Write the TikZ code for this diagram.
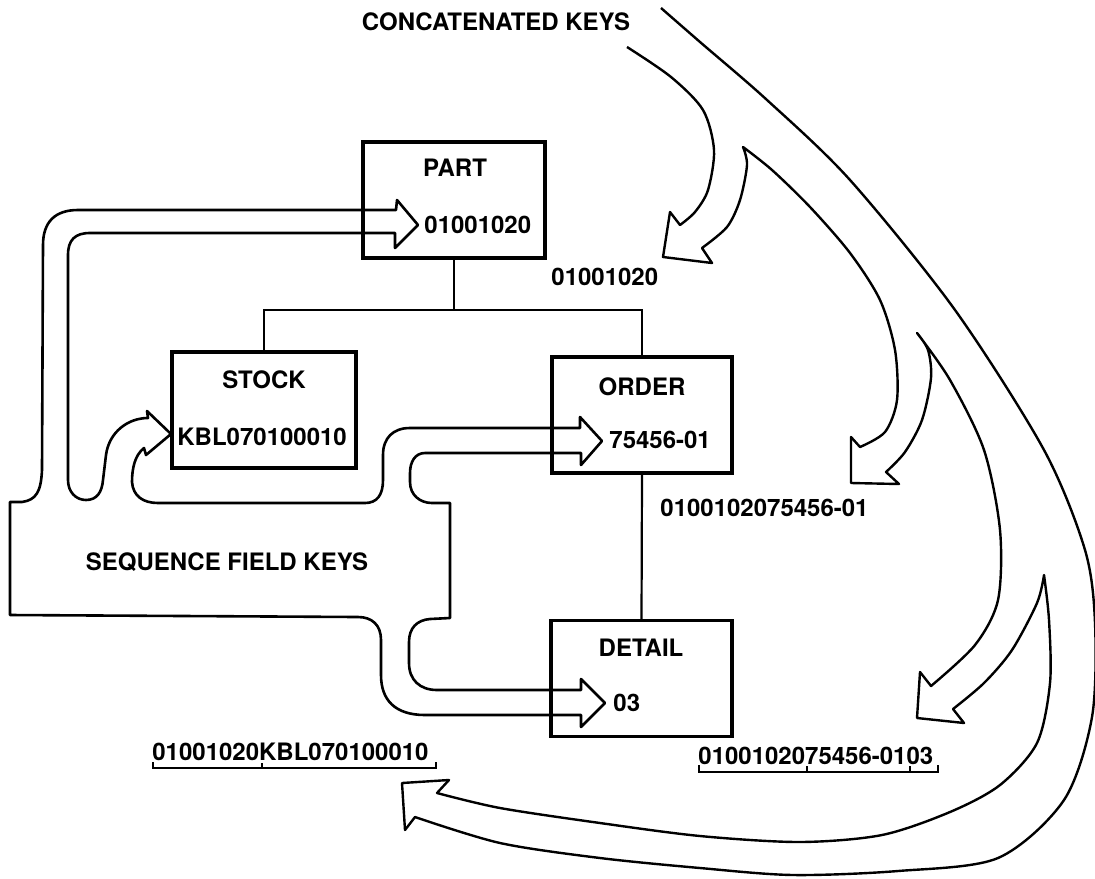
\documentclass[tikz,border=0pt]{standalone}
\usepackage{fontspec}
\setmainfont{TeX Gyre Heros}

\tikzset{
  recbox/.style={draw, line width=1.6pt, minimum height=58pt, inner sep=0pt},
  keytext/.style={anchor=west, inner sep=0pt},
  tree/.style={line width=1.1pt},
  band/.style={line width=1.3pt, line join=round},
}

\begin{document}
\begin{tikzpicture}[x=0.5pt, y=-0.5pt, every node/.style={font=\fontsize{12}{14}\selectfont\bfseries}]
    \useasboundingbox (0,0) rectangle (1095,878);

    % Segment boxes
    \node[recbox, minimum width=91pt] (part) at (454,200) {};
    \node[recbox, minimum width=92pt] (stock) at (264,410) {};
    \node[recbox, minimum width=90pt] (order) at (642,415) {};
    \node[recbox, minimum width=90.5pt] (detail) at (641.5,678.5) {};

    \node (partname) at (455,168) {PART};
    \node (stockname) at (264,380) {STOCK};
    \node (ordername) at (642,387) {ORDER};
    \node (detailname) at (641,648) {DETAIL};

    \node[keytext] (partkey) at (424,225) {01001020};
    \node[keytext] (stockkey) at (177,437) {KBL070100010};
    \node[keytext] (orderkey) at (609,440) {75456-01};
    \node[keytext] (detailkey) at (613,703) {03};

    % Hierarchy
    \draw[tree] (part.south) -- ++(0,50) coordinate (fork);
    \draw[tree] (stock.north) |- (fork) -| (order.north);
    \draw[tree] (order.south) -- (detail.north);

    % Concatenated keys
    \node[keytext] (catpart) at (551,277) {01001020};
    \node[keytext] (catorder) at (660,508) {0100102075456-01};
    \node[keytext] (catdetail) at (698,756) {0100102075456-0103};
    \node[keytext] (catstock) at (152,752) {01001020KBL070100010};
    \draw[tree] (699,765) -- (699,772) -- (938,772) -- (938,765)
        (807,772) -- (807,766) (910,772) -- (910,766);
    \draw[tree] (153,762) -- (153,768) -- (436,768) -- (436,762)
        (262,768) -- (262,763);

    \node (concat) at (496,22) {CONCATENATED KEYS};
    \node (seqkeys) at (227,562) {SEQUENCE FIELD KEYS};

    % Sequence field band
    \draw[band] (10,615) -- (10,502) -- (22,502)
        .. controls (36,500) and (41,492) .. (42,470)
        -- (43,245) .. controls (43,222) and (55,210) .. (78,210)
        -- (396,210) -- (397,200) -- (418,225) -- (395,248) -- (395,233)
        -- (90,233) .. controls (75,233) and (68,240) .. (68,255)
        -- (68,480) .. controls (68,492) and (76,500) .. (86,500)
        .. controls (97,500) and (102,492) .. (103,480)
        -- (106,455) .. controls (109,432) and (128,418) .. (148,418)
        -- (147,411) -- (171,434) -- (146,455) -- (144,448)
        .. controls (135,455) and (132,468) .. (132,482)
        .. controls (133,496) and (143,503) .. (158,503)
        -- (365,503) .. controls (377,503) and (383,495) .. (383,480)
        -- (383,455) .. controls (383,438) and (393,428) .. (410,428)
        -- (580,428) -- (580,417) -- (602,441) -- (581,465) -- (581,453)
        -- (425,453) .. controls (415,453) and (410,462) .. (410,473)
        -- (410,482) .. controls (410,495) and (420,503) .. (432,503)
        -- (450,503) -- (450,618) -- (430,619)
        .. controls (417,620) and (409,628) .. (409,642)
        -- (409,663) .. controls (409,680) and (420,690) .. (437,690)
        -- (581,690) -- (581,679) -- (605,703) -- (581,727) -- (581,715)
        -- (425,715) .. controls (395,715) and (381,700) .. (381,675)
        -- (381,640) .. controls (381,625) and (372,617) .. (358,617)
        -- cycle;

    % Concatenated key arrows
    \draw[band, line width=1.2pt]
        plot[smooth] coordinates {(627,47) (671,77) (703,110) (714,150) (708,190) (695,212) (680,225)}
        -- (670,212) -- (663,257) -- (712,263) -- (702,248)
        -- plot[smooth] coordinates {(702,248) (727,227) (740,200) (747,165) (743,147)}
        -- plot[smooth] coordinates {(743,147) (772,170) (810,207) (850,253) (880,300) (895,350) (897,400) (885,432) (860,447)}
        -- (851,437) -- (851,483) -- (899,484) -- (886,472)
        -- plot[smooth] coordinates {(886,472) (905,452) (922,420) (931,378) (928,350) (917,333)}
        -- plot[smooth] coordinates {(917,333) (950,380) (984,450) (1000,530) (998,600) (975,645) (931,686)}
        -- (920,672) -- (917,718) -- (964,723) -- (953,709)
        -- plot[smooth] coordinates {(953,709) (984,683) (1012,650) (1037,603) (1044,575)}
        -- plot[smooth] coordinates {(1044,575) (1049,620) (1050,683) (1037,743) (1000,785) (950,812) (882,835) (800,842) (700,836) (600,823) (500,808) (437,793)}
        -- (449,780) -- (402,783) -- (405,830) -- (415,817)
        -- plot[smooth] coordinates {(415,817) (500,843) (600,858) (700,868) (793,875) (898,871) (998,858) (1064,800) (1092,717) (1095,623) (1085,550) (1044,450) (955,310) (850,180) (767,100) (700,42) (661,8)};
\end{tikzpicture}
\end{document}
